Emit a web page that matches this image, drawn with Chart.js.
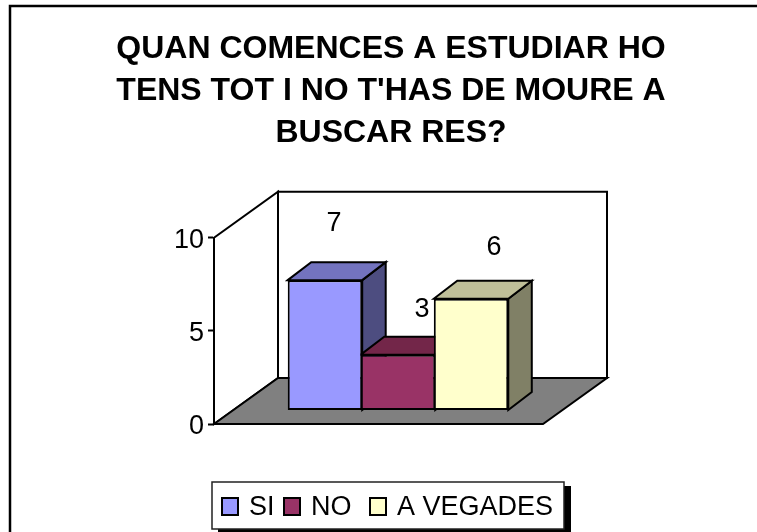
<!DOCTYPE html>
<html><head><meta charset="utf-8">
<style>html,body{margin:0;padding:0;background:#fff}canvas{display:block}</style>
<script src="https://cdn.jsdelivr.net/npm/chart.js@4"></script>
</head><body>
<div style="width:757px;height:532px"><canvas id="c" width="757" height="532"></canvas></div>
<script>
const titleLines = ["QUAN COMENCES A ESTUDIAR HO", "TENS TOT I NO T'HAS DE MOURE A", "BUSCAR RES?"];
const categories = [""];
const seriesNames = ["SI", "NO", "A VEGADES"];
const seriesValues = [[7], [3], [6]];
const yTicks = [0, 5, 10];
const frontColors = ["#9999FF", "#993366", "#FFFFCC"];
const topColors = ["#7373BF", "#732649", "#BFBF99"];
const sideColors = ["#4D4D80", "#4D1A33", "#808066"];

const FONT = "'Liberation Sans', Arial, sans-serif";
const wallDepth = {dx: 64, dy: -46};
const barShift = {dx: 19.5, dy: -13.5};
const barDepth = {dx: 23.5, dy: -18};
const labelNudge = [{x: -3, y: -70.5}, {x: 12, y: -59.5}, {x: 11, y: -65.5}];

function poly(ctx, pts, fill) {
  ctx.beginPath();
  pts.forEach((p, i) => i ? ctx.lineTo(p[0], p[1]) : ctx.moveTo(p[0], p[1]));
  ctx.closePath();
  if (fill) { ctx.fillStyle = fill; ctx.fill(); }
  ctx.strokeStyle = "#000"; ctx.lineWidth = 2; ctx.lineJoin = "miter"; ctx.stroke();
}

const frame3d = {
  id: "frame3d",
  beforeDraw(chart) {
    const ctx = chart.ctx;
    ctx.save();
    ctx.fillStyle = "#fff"; ctx.fillRect(0, 0, 757, 532);
    ctx.strokeStyle = "#000"; ctx.lineWidth = 2.5;
    ctx.beginPath(); ctx.moveTo(10, 540); ctx.lineTo(10, 6); ctx.lineTo(760, 6); ctx.stroke();
    ctx.restore();
  },
  beforeDatasetsDraw(chart) {
    const ctx = chart.ctx, y = chart.scales.y, x = chart.scales.x;
    const L = x.left, R = x.right, B = y.getPixelForValue(0), T = y.getPixelForValue(10);
    const d = wallDepth;
    ctx.save();
    poly(ctx, [[L, B], [L, T], [L + d.dx, T + d.dy], [L + d.dx, B + d.dy]], "#fff");
    poly(ctx, [[L + d.dx, B + d.dy], [L + d.dx, T + d.dy], [R + d.dx, T + d.dy], [R + d.dx, B + d.dy]], "#fff");
    poly(ctx, [[L, B], [L + d.dx, B + d.dy], [R + d.dx, B + d.dy], [R, B]], "#808080");
    ctx.translate(barShift.dx, barShift.dy);
    const b = barDepth;
    seriesValues.forEach((_, i) => {
      const el = chart.getDatasetMeta(i).data[0];
      const l = el.x - el.width / 2, r = el.x + el.width / 2, t = el.y, bot = el.base;
      poly(ctx, [[r, bot], [r, t], [r + b.dx, t + b.dy], [r + b.dx, bot + b.dy]], sideColors[i]);
      poly(ctx, [[l, t], [l + b.dx, t + b.dy], [r + b.dx, t + b.dy], [r, t]], topColors[i]);
    });
    ctx.restore();
    ctx.save();
    ctx.translate(barShift.dx, barShift.dy);
  },
  afterDatasetsDraw(chart) {
    const ctx = chart.ctx;
    ctx.restore();
    ctx.save();
    ctx.fillStyle = "#000"; ctx.font = "27px " + FONT; ctx.textAlign = "center"; ctx.textBaseline = "middle";
    seriesValues.forEach((vals, i) => {
      const el = chart.getDatasetMeta(i).data[0];
      ctx.fillText(String(vals[0]), el.x + barShift.dx + 12 + labelNudge[i].x, el.y + barShift.dy + labelNudge[i].y + 14);
    });
    // legend
    const box = {l: 212, t: 482, r: 564, b: 529};
    ctx.fillStyle = "#000"; ctx.fillRect(box.l + 6, box.t + 4, box.r - box.l + 1, box.b - box.t + 6);
    ctx.fillStyle = "#fff"; ctx.fillRect(box.l, box.t, box.r - box.l, box.b - box.t);
    ctx.strokeStyle = "#222"; ctx.lineWidth = 1.5; ctx.strokeRect(box.l, box.t, box.r - box.l, box.b - box.t);
    const slots = [222, 284, 370];
    ctx.textAlign = "left"; ctx.font = "27px " + FONT;
    seriesNames.forEach((n, i) => {
      ctx.fillStyle = frontColors[i]; ctx.fillRect(slots[i], 498, 16, 17);
      ctx.strokeStyle = "#000"; ctx.lineWidth = 2; ctx.strokeRect(slots[i], 498, 16, 17);
      ctx.fillStyle = "#000"; ctx.fillText(n, slots[i] + 27, 508);
    });
    ctx.restore();
  },
  afterLayout(chart) {
    chart.titleBlock.left = 0; chart.titleBlock.right = 782;
  }
};

new Chart(document.getElementById("c"), {
  type: "bar",
  data: {
    labels: categories,
    datasets: seriesNames.map((n, i) => ({
      label: n, data: seriesValues[i], backgroundColor: frontColors[i],
      borderColor: "#000", borderWidth: 2, borderSkipped: false, clip: false,
      categoryPercentage: 0.666, barPercentage: 1.02
    }))
  },
  plugins: [frame3d],
  options: {
    responsive: false, animation: false,
    layout: {padding: {left: 150, right: 214, top: 28, bottom: 108}},
    plugins: {
      legend: {display: false},
      tooltip: {enabled: false},
      title: {display: true, text: titleLines, color: "#000", padding: {top: 0, bottom: 84},
        font: {family: FONT, size: 32, weight: "bold", lineHeight: 1.31}}
    },
    scales: {
      x: {display: false, offset: true},
      y: {
        min: 0, max: 10,
        afterFit(s) { s.width = 64; },
        afterBuildTicks(s) { s.ticks = yTicks.map(v => ({value: v})); },
        border: {display: true, color: "#000", width: 2},
        grid: {drawOnChartArea: false, drawTicks: true, tickLength: 6, tickColor: "#000", tickWidth: 2, color: "#000"},
        ticks: {color: "#000", padding: 4, labelOffset: 3, font: {family: FONT, size: 27}}
      }
    }
  }
});
</script></body></html>
